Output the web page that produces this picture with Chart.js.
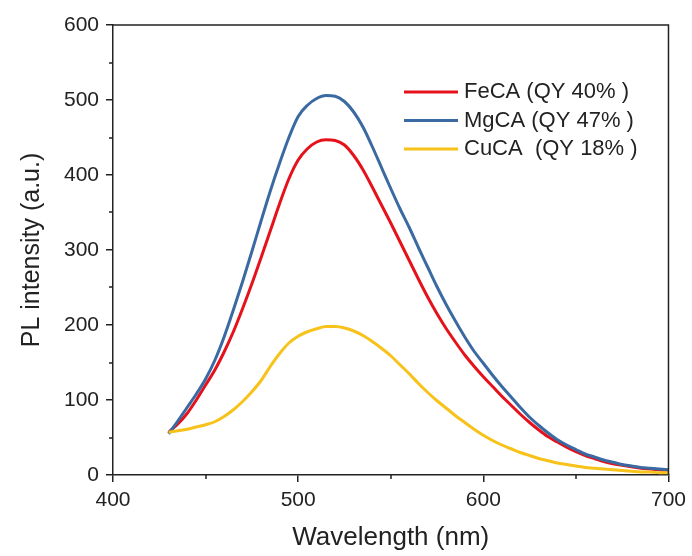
<!DOCTYPE html>
<html>
<head>
<meta charset="utf-8">
<script src="https://cdn.jsdelivr.net/npm/chart.js@4/dist/chart.umd.min.js"></script>
<style>
	html, body { margin: 0; padding: 0; background: #ffffff; }
	#wrap { width: 692px; height: 556px; }
</style>
</head>
<body>
<div id="wrap"><canvas id="pl" width="692" height="556"></canvas></div>
<script>
// Wavelength (nm), every 5 nm.
var wavelengths = [
	430, 435, 440, 445, 450, 455, 460, 465, 470, 475,
	480, 485, 490, 495, 500, 505, 510, 515, 520, 525,
	530, 535, 540, 545, 550, 555, 560, 565, 570, 575,
	580, 585, 590, 595, 600, 605, 610, 615, 620, 625,
	630, 635, 640, 645, 650, 655, 660, 665, 670, 675,
	680, 685, 690, 695, 700
];

var fecaValues = [
	57, 68, 82, 100, 120, 140, 164, 191, 222, 255,
	290, 326, 362, 395, 420, 435, 444, 447, 446, 440,
	426, 407, 384, 360, 336, 311, 286, 261, 237, 215,
	195, 177, 160, 145, 131, 118, 105, 93, 81, 70,
	60, 51, 44, 37, 31, 26, 22, 18, 15, 13,
	11, 9, 8, 7, 6
];

var mgcaValues = [
	55, 72, 90, 108, 128, 153, 184, 220, 258, 298,
	339, 379, 416, 450, 478, 493, 502, 506, 505, 498,
	484, 464, 438, 410, 382, 355, 330, 303, 277, 251,
	227, 205, 184, 165, 149, 133, 118, 104, 90, 77,
	66, 56, 47, 40, 34, 28, 24, 20, 17, 14,
	12, 10, 9, 8, 7
];

var cucaValues = [
	57, 59, 61, 64, 67, 71, 78, 87, 98, 111,
	126, 145, 162, 176, 185, 191, 195, 198, 198, 196,
	192, 186, 178, 169, 159, 147, 135, 122, 110, 99,
	89, 79, 70, 61, 53, 46, 40, 35, 30, 26,
	22, 19, 16, 14, 12, 10, 9, 8, 7, 6,
	5, 4, 4, 3, 3
];

var seriesLabels = [ 'FeCA (QY 40% )', 'MgCA (QY 47% )', 'CuCA  (QY 18% )' ];
var seriesColors = [ '#e5121b', '#3a6aa1', '#f7c21a' ];

var xMinorTicks = [ 450, 550, 650 ];
var yMinorTicks = [ 50, 150, 250, 350, 450, 550 ];

var textColor = '#222222';
var axisColor = '#222222';

function toPoints( values ) {
	return values.map( function ( v, i ) {
		return { x: wavelengths[ i ], y: v };
	} );
}

// Top/right frame, the short minor ticks and the legend box in the plot.
var plotExtras = {
	id: 'plotExtras',
	afterDraw: function ( chart ) {
		var ctx = chart.ctx;
		var a   = chart.chartArea;
		var xs  = chart.scales.x;
		var ys  = chart.scales.y;

		ctx.save();
		ctx.strokeStyle = axisColor;
		ctx.lineWidth   = 1.5;
		ctx.beginPath();
		ctx.moveTo( a.left, a.top );
		ctx.lineTo( a.right, a.top );
		ctx.lineTo( a.right, a.bottom );
		xMinorTicks.forEach( function ( v ) {
			var px = Math.round( xs.getPixelForValue( v ) );
			ctx.moveTo( px, a.bottom );
			ctx.lineTo( px, a.bottom + 4 );
		} );
		yMinorTicks.forEach( function ( v ) {
			var py = Math.round( ys.getPixelForValue( v ) );
			ctx.moveTo( a.left, py );
			ctx.lineTo( a.left - 4, py );
		} );
		ctx.stroke();

		// legend
		var lx = a.left + 291;
		var ly = a.top + 67;
		ctx.font         = '22px "Liberation Sans", Arial, sans-serif';
		ctx.textBaseline = 'middle';
		ctx.textAlign    = 'left';
		seriesLabels.forEach( function ( label, i ) {
			var yy = ly + i * 28.5;
			ctx.strokeStyle = seriesColors[ i ];
			ctx.lineWidth   = 3;
			ctx.beginPath();
			ctx.moveTo( lx, yy );
			ctx.lineTo( lx + 54, yy );
			ctx.stroke();
			ctx.fillStyle = textColor;
			ctx.fillText( label, lx + 60, yy );
		} );
		ctx.restore();
	},
};

var datasets = [ fecaValues, mgcaValues, cucaValues ].map( function ( values, i ) {
	return {
		label: seriesLabels[ i ],
		data: toPoints( values ),
		borderColor: seriesColors[ i ],
		backgroundColor: seriesColors[ i ],
		borderWidth: 3,
		pointRadius: 0,
		cubicInterpolationMode: 'monotone',
		fill: false,
		order: [ 2, 1, 0 ][ i ],
	};
} );

var tickFont  = { family: '"Liberation Sans", Arial, sans-serif', size: 21 };
var titleFont = { family: '"Liberation Sans", Arial, sans-serif', size: 25 };

new Chart( document.getElementById( 'pl' ), {
	type: 'line',
	data: { datasets: datasets },
	plugins: [ plotExtras ],
	options: {
		responsive: false,
		animation: false,
		devicePixelRatio: 1,
		layout: {
			padding: { top: 25, right: 23, left: 0, bottom: 0 },
		},
		plugins: {
			legend: { display: false },
			tooltip: { enabled: false },
		},
		scales: {
			x: {
				type: 'linear',
				min: 400,
				max: 700,
				afterFit: function ( scale ) {
					scale.height = 81;
				},
				ticks: {
					stepSize: 100,
					color: textColor,
					font: tickFont,
					padding: 6,
					maxRotation: 0,
				},
				grid: {
					drawOnChartArea: false,
					drawTicks: true,
					tickLength: 7,
					color: axisColor,
					lineWidth: 1.5,
				},
				border: { display: true, color: axisColor, width: 1.5 },
				title: {
					display: true,
					text: 'Wavelength (nm)',
					color: textColor,
					font: { family: titleFont.family, size: 26 },
					padding: { top: 0, bottom: 3 },
				},
			},
			y: {
				min: 0,
				max: 600,
				afterFit: function ( scale ) {
					scale.width = 113;
				},
				ticks: {
					stepSize: 100,
					color: textColor,
					font: tickFont,
					padding: 7,
				},
				grid: {
					drawOnChartArea: false,
					drawTicks: true,
					tickLength: 7,
					color: axisColor,
					lineWidth: 1.5,
				},
				border: { display: true, color: axisColor, width: 1.5 },
				title: {
					display: true,
					text: 'PL intensity (a.u.)',
					color: textColor,
					font: titleFont,
					padding: { top: 17, bottom: 0 },
				},
			},
		},
	},
} );
</script>
</body>
</html>
